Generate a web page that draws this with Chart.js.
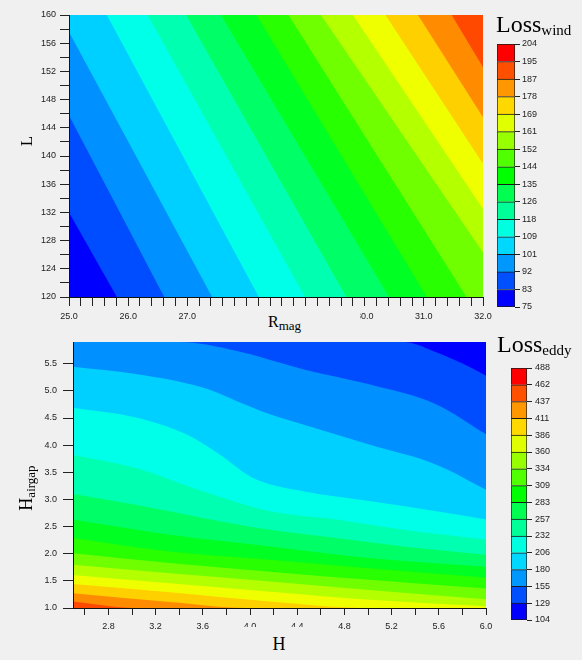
<!DOCTYPE html>
<html><head><meta charset="utf-8">
<script src="https://cdn.jsdelivr.net/npm/chart.js@4.4.1/dist/chart.umd.min.js"></script>
<style>
html,body{margin:0;padding:0;background:#f0f0f0;}
body{width:582px;height:660px;position:relative;overflow:hidden;}
canvas{position:absolute;}
.t{position:absolute;font-family:"Liberation Serif","Times New Roman",serif;color:#000;white-space:nowrap;line-height:1;}
.s{position:relative;}
.box{position:absolute;background:#f0f0f0;}
</style></head><body>
<canvas id="cWind" width="582" height="330" style="left:0;top:0"></canvas>
<canvas id="cWindBar" width="102" height="290" style="left:480px;top:30px"></canvas>
<canvas id="cEddy" width="582" height="330" style="left:0;top:330px"></canvas>
<canvas id="cEddyBar" width="92" height="290" style="left:490px;top:350px"></canvas>

<div class="t" style="left:496px;top:12px;font-size:24px">Loss<span class="s" style="font-size:15px;top:3px">wind</span></div>
<div class="t" style="left:497px;top:332px;font-size:24px">Loss<span class="s" style="font-size:15px;top:3px">eddy</span></div>
<div class="box" style="left:199px;top:307px;width:161px;height:28px"></div>
<div class="t" style="left:268px;top:314px;font-size:16px">R<span class="s" style="font-size:13px;top:3px">mag</span></div>
<div class="t" style="left:26px;top:141px;font-size:17px;transform:translate(-50%,-50%) rotate(-90deg)">L</div>
<div class="t" style="left:26px;top:488px;font-size:18px;transform:translate(-50%,-50%) rotate(-90deg)">H<span class="s" style="font-size:13px;top:3px">airgap</span></div>
<div class="box" style="left:228px;top:627px;width:100px;height:33px"></div>
<div class="t" style="left:279px;top:635px;font-size:18px;transform:translateX(-50%)">H</div>

<script>
// ---------- data ----------
const plotColors = ['#0000ff','#004cff','#0090ff','#00d0ff','#00ffe8','#00ffb0','#00ff66','#00ff22','#28ff00','#70ff00','#b4ff00','#f0ff00','#ffd000','#ff8c00','#ff4800'];
const barColors  = ['#0000ff','#0050ff','#0098ff','#00d8ff','#00ffe0','#00ff98','#00ff50','#00ff00','#50ff00','#98ff00','#e0ff00','#ffd800','#ff9800','#ff5000','#ff0000'];

// Loss_wind (x = R_mag, y = L)
const windXRange = [25, 32];
const windYRange = [120, 160];
const windXLabels = ['25.0','26.0','27.0','28.0','29.0','30.0','31.0','32.0'];
const windYLabels = ['120','124','128','132','136','140','144','148','152','156','160'];
const windLevels = [75, 83.6, 92.2, 100.8, 109.4, 118, 126.6, 135.2, 143.8, 152.4, 161, 169.6, 178.2, 186.8, 195.4, 204];
const windLevelLabels = ['75','83','92','101','109','118','126','135','144','152','161','169','178','187','195','204'];
// contour lines for windLevels[1..14], points [R_mag, L]
const windContours = [
  [[25, 132.0], [25.81, 120]],
  [[25, 145.75], [26.61, 120]],
  [[25, 157.6], [27.42, 120]],
  [[25.64, 160], [28.21, 120]],
  [[26.33, 160], [28.99, 120]],
  [[26.98, 160], [29.69, 120]],
  [[27.57, 160], [30.41, 120]],
  [[28.17, 160], [31.05, 120]],
  [[28.71, 160], [31.72, 120]],
  [[29.26, 160], [32, 126.3]],
  [[29.80, 160], [32, 132.5]],
  [[30.35, 160], [32, 138.9]],
  [[30.90, 160], [32, 145.5]],
  [[31.47, 160], [32, 152.6]]
];

// Loss_eddy (x = H, y = H_airgap)
const eddyXRange = [2.5, 6.0];
const eddyYRange = [1.0, 5.9];
const eddyXLabels = ['2.8','3.2','3.6','4.0','4.4','4.8','5.2','5.6','6.0'];
const eddyYLabels = ['1.0','1.5','2.0','2.5','3.0','3.5','4.0','4.5','5.0','5.5'];
const eddyLevels = [104, 129.6, 155.2, 180.8, 206.4, 232, 257.6, 283.2, 308.8, 334.4, 360, 385.6, 411.2, 436.8, 462.4, 488];
const eddyLevelLabels = ['104','129','155','180','206','232','257','283','309','334','360','386','411','437','462','488'];
// contour lines for eddyLevels[1..14], points [H, H_airgap]
const eddyContours = [
  [[5.30, 5.9], [5.58, 5.71], [5.87, 5.43], [6.0, 5.28]],
  [[3.40, 5.9], [3.88, 5.74], [4.45, 5.40], [5.01, 5.12], [5.58, 4.75], [6.0, 4.20]],
  [[2.5, 5.445], [3.03, 5.31], [3.60, 5.06], [3.88, 4.82], [4.17, 4.57], [4.45, 4.38], [5.01, 4.01], [5.58, 3.64], [6.0, 3.18]],
  [[2.5, 4.69], [3.03, 4.51], [3.46, 4.20], [3.74, 3.83], [4.02, 3.40], [4.45, 3.15], [5.01, 2.97], [5.58, 2.78], [6.0, 2.63]],
  [[2.5, 3.82], [3.03, 3.58], [3.60, 3.15], [4.17, 2.78], [4.73, 2.63], [5.30, 2.44], [6.0, 2.26]],
  [[2.5, 3.10], [3.03, 2.90], [3.60, 2.66], [4.17, 2.44], [4.73, 2.29], [5.30, 2.135], [6.0, 1.98]],
  [[2.5, 2.63], [3.32, 2.35], [4.17, 2.135], [5.01, 1.92], [6.0, 1.76]],
  [[2.5, 2.29], [3.32, 2.04], [4.17, 1.89], [5.01, 1.73], [6.0, 1.56]],
  [[2.5, 2.01], [3.32, 1.83], [4.17, 1.67], [5.01, 1.52], [6.0, 1.36]],
  [[2.5, 1.795], [3.32, 1.64], [4.17, 1.49], [5.01, 1.33], [6.0, 1.16]],
  [[2.5, 1.61], [3.32, 1.457], [4.17, 1.30], [5.01, 1.15], [6.0, 1.03]],
  [[2.5, 1.44], [3.32, 1.29], [4.17, 1.12], [5.01, 1.0]],
  [[2.5, 1.27], [3.32, 1.11], [3.97, 1.0]],
  [[2.5, 1.118], [3.03, 1.0]]
];

// ---------- helpers ----------
Chart.defaults.font.family = '"Liberation Sans", Arial, sans-serif';
Chart.defaults.font.size = 9;
Chart.defaults.color = '#222';

const steps = (a, b, d) => { const n = Math.floor((b - a) / d + 1e-9); return Array.from({length: n + 1}, (_, i) => +(a + i * d).toFixed(4)); };

function axis(range, first, tickStep, labels, o) {
  return {
    type: 'linear', min: range[0], max: range[1], position: o.position,
    afterBuildTicks: s => { s.ticks = steps(first, range[1], tickStep).map(v => ({value: v})); },
    afterFit: s => { if (o.position === 'left') s.width = o.size; else s.height = o.size; },
    ticks: { autoSkip: false, maxRotation: 0, minRotation: 0, padding: o.pad, color: '#222',
      callback: v => { const l = labels.find(t => Math.abs(parseFloat(t) - v) < 1e-6); return l === undefined ? '' : l; } },
    grid: { drawOnChartArea: false, drawTicks: true, tickLength: o.tick, tickColor: '#222', tickWidth: 1 },
    border: { display: true, color: '#111', width: 1, z: 1 }
  };
}

function contourSets(lines, colors, xr, fill, smooth) {
  return lines.map((ln, k) => {
    const pts = ln.map(p => ({x: p[0], y: p[1]}));
    if (pts[0].x > xr[0]) pts.unshift({x: xr[0], y: pts[0].y});
    const last = pts[pts.length - 1];
    if (last.x < xr[1]) pts.push({x: xr[1], y: last.y});
    return { data: pts, fill: fill, backgroundColor: colors[k + 1], borderColor: 'rgba(0,0,0,0)', borderWidth: 0,
      pointRadius: 0, pointHoverRadius: 0, tension: 0, cubicInterpolationMode: smooth ? 'monotone' : 'default' };
  }).reverse();
}

function bgPlugin(color) {
  return { id: 'areaBg', beforeDatasetsDraw(chart) {
    const a = chart.chartArea, c = chart.ctx;
    c.save(); c.fillStyle = color; c.fillRect(a.left, a.top, a.right - a.left, a.bottom - a.top); c.restore();
  } };
}

function contourChart(id, lines, xr, yr, fill, smooth, xAxis, yAxis, pad) {
  new Chart(document.getElementById(id), {
    type: 'line',
    data: { datasets: contourSets(lines, plotColors, xr, fill, smooth) },
    options: {
      responsive: false, animation: false, events: [],
      layout: { padding: pad },
      plugins: { legend: { display: false }, tooltip: { enabled: false } },
      scales: { x: xAxis, y: yAxis }
    },
    plugins: [bgPlugin(plotColors[0])]
  });
}

function colorbar(id, levels, labels, colors, pad, axisW, tickPad) {
  new Chart(document.getElementById(id), {
    type: 'bar',
    data: { labels: [''], datasets: colors.map((c, i) => ({
      data: [[levels[i], levels[i + 1]]], backgroundColor: c, borderColor: '#1a1a1a',
      borderWidth: {top: 1, left: 1, right: 1, bottom: i === 0 ? 1 : 0}, borderSkipped: false,
      grouped: false, categoryPercentage: 1, barPercentage: 1 })) },
    options: {
      responsive: false, animation: false, events: [],
      layout: { padding: pad },
      plugins: { legend: { display: false }, tooltip: { enabled: false } },
      scales: {
        x: { display: false },
        y: { position: 'right', min: levels[0], max: levels[levels.length - 1],
          afterBuildTicks: s => { s.ticks = levels.map(v => ({value: v})); },
          afterFit: s => { s.width = axisW; },
          ticks: { autoSkip: false, padding: tickPad, color: '#222', callback: (v, i) => labels[i] },
          grid: { drawOnChartArea: false, tickLength: 5, tickColor: '#222' },
          border: { display: false } }
      }
    }
  });
}

// ---------- charts ----------
contourChart('cWind', windContours, windXRange, windYRange, 'end', false,
  axis(windXRange, windXRange[0], 0.2, windXLabels, {position: 'bottom', size: 33, tick: 9, pad: 5}),
  axis(windYRange, windYRange[0], 2, windYLabels, {position: 'left', size: 69, tick: 9, pad: 4}),
  {top: 15, right: 99, left: 0, bottom: 0});

contourChart('cEddy', eddyContours, eddyXRange, eddyYRange, 'start', true,
  axis(eddyXRange, 2.6, 0.2, eddyXLabels, {position: 'bottom', size: 52, tick: 7, pad: 6}),
  axis(eddyYRange, eddyYRange[0], 0.5, eddyYLabels, {position: 'left', size: 73, tick: 10, pad: 6}),
  {top: 12, right: 96, left: 0, bottom: 0});

colorbar('cWindBar', windLevels, windLevelLabels, barColors, {left: 17, top: 14, right: 0, bottom: 13}, 67, 2);
colorbar('cEddyBar', eddyLevels, eddyLevelLabels, barColors, {left: 21, top: 18, right: 0, bottom: 20}, 55, 3);
</script>
</body></html>
